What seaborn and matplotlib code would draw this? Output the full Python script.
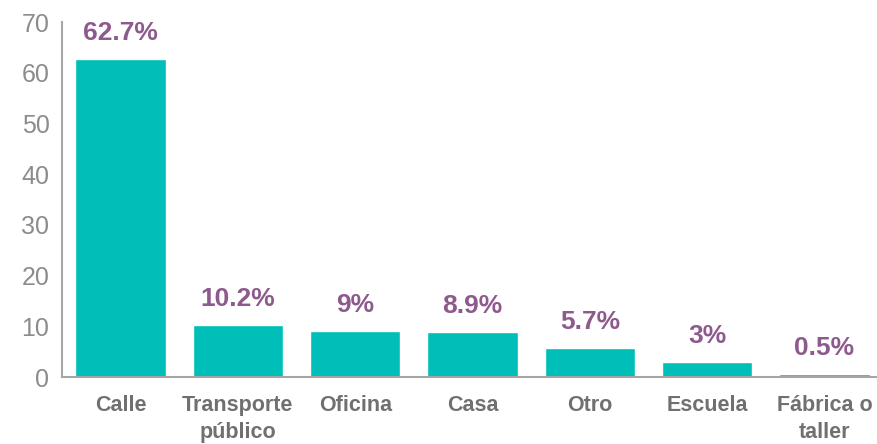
import matplotlib
matplotlib.use("Agg")
import matplotlib.pyplot as plt
import seaborn as sns
import pandas as pd

# data
categories = ["Calle", "Transporte\npúblico", "Oficina", "Casa", "Otro", "Escuela", "Fábrica o\ntaller"]
values = [62.7, 10.2, 9.0, 8.9, 5.7, 3.0, 0.5]
labels = ["62.7%", "10.2%", "9%", "8.9%", "5.7%", "3%", "0.5%"]

sns.set_style("white")
plt.rcParams['font.family'] = ['Liberation Sans', 'DejaVu Sans']

teal = "#00BFB8"
purple = "#8E5A8E"
gray = "#8C8C8C"

df = pd.DataFrame({"lugar": categories, "pct": values})

fig = plt.figure(figsize=(8.77, 4.44), dpi=100)
ax = fig.add_axes([62/877, 67/444, (883-62)/877, 355/444])
sns.barplot(data=df, x="lugar", y="pct", color=teal, saturation=1, width=0.77, ax=ax)

for i, (v, t) in enumerate(zip(values, labels)):
    ax.text(i, v + 2.8, t, ha="center", va="bottom", color=purple,
            fontsize=19, fontweight="bold")

ax.set_ylim(0, 70)
ax.set_xlim(-0.5, 6.5)
ax.set_yticks(range(0, 71, 10))
ax.set_xlabel("")
ax.set_ylabel("")
# boundary ticks between categories, labels centred on the bars
ax.set_xticks([i - 0.5 for i in range(8)], minor=False)
ax.set_xticklabels([])
ax.set_xticks(range(7), minor=True)
ax.set_xticklabels(categories, minor=True, fontsize=15.5, fontweight="bold",
                   color="#707070", linespacing=1.35)
ax.tick_params(axis="x", which="minor", length=0, pad=13)
ax.tick_params(axis="x", which="major", length=5, width=1.5, color=gray, direction="out")
ax.tick_params(axis="y", length=5, width=1.5, color=gray, labelsize=18, labelcolor=gray, pad=4)

for s in ["top", "right"]:
    ax.spines[s].set_visible(False)
for s in ["left", "bottom"]:
    ax.spines[s].set_color("#A6A6A6")
    ax.spines[s].set_linewidth(1.5)

fig.savefig("out.png", dpi=100)
